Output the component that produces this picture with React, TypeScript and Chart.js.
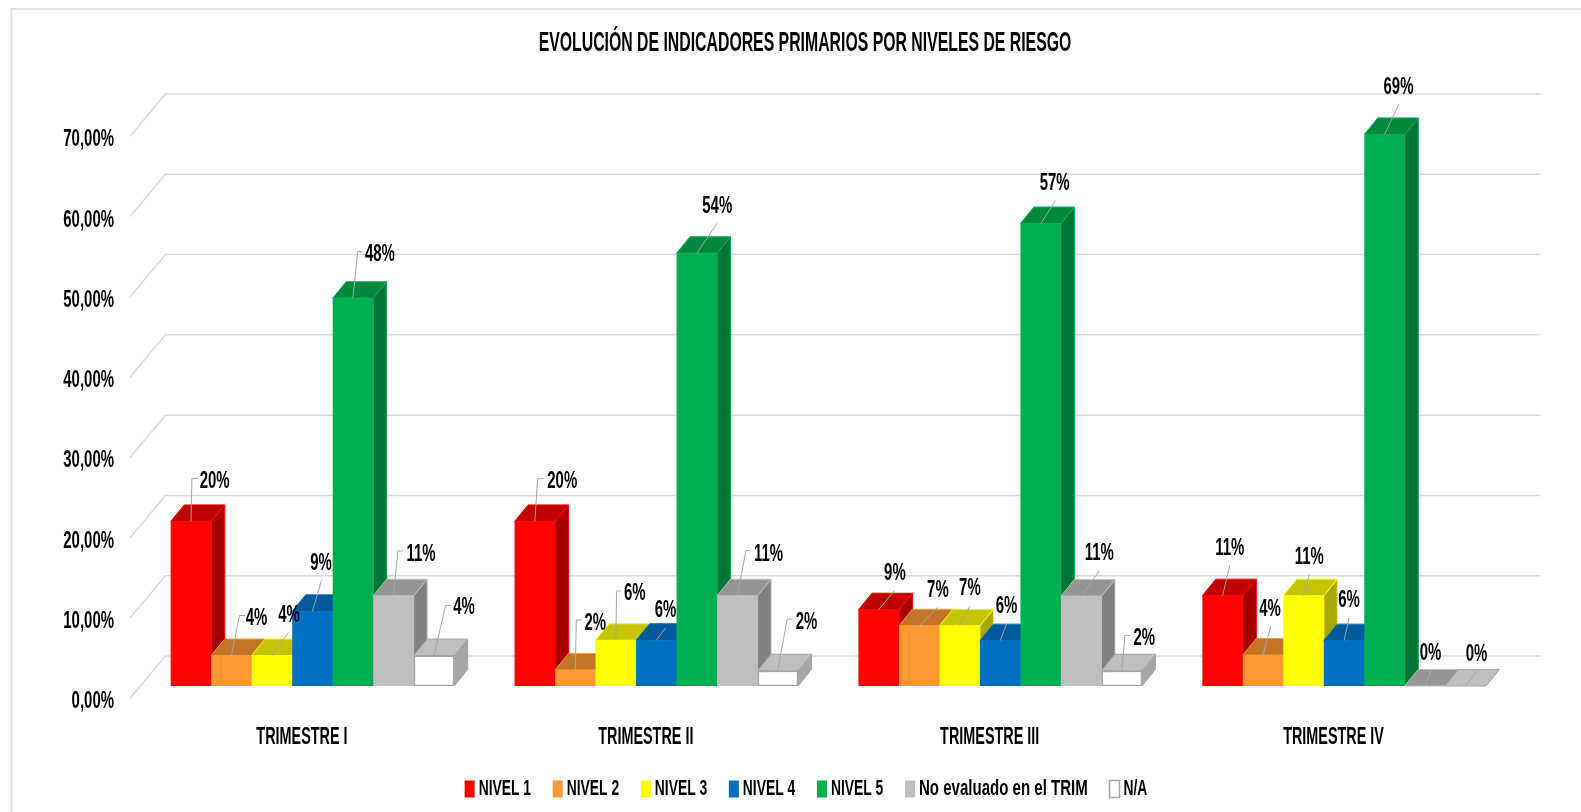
import React, { useEffect, useRef } from "react";
import { Chart, registerables } from "chart.js";

Chart.register(...registerables);

const titleText = "EVOLUCIÓN DE INDICADORES PRIMARIOS POR NIVELES DE RIESGO";
const categories = ["TRIMESTRE I", "TRIMESTRE II", "TRIMESTRE III", "TRIMESTRE IV"];
const seriesNames = ["NIVEL 1", "NIVEL 2", "NIVEL 3", "NIVEL 4", "NIVEL 5", "No evaluado en el TRIM", "N/A"];

const nivel1 = [20.5, 20.5, 9.5, 11.25];
const nivel2 = [3.8, 2.0, 7.5, 3.85];
const nivel3 = [3.8, 5.7, 7.5, 11.25];
const nivel4 = [9.3, 5.7, 5.65, 5.65];
const nivel5 = [48.3, 53.9, 57.6, 68.7];
const noEvaluado = [11.25, 11.25, 11.2, 0];
const noAplica = [3.8, 1.9, 1.9, 0];
const seriesValues = [nivel1, nivel2, nivel3, nivel4, nivel5, noEvaluado, noAplica];

const labelsText = [
  ["20%", "20%", "9%", "11%"],
  ["4%", "2%", "7%", "4%"],
  ["4%", "6%", "7%", "11%"],
  ["9%", "6%", "6%", "6%"],
  ["48%", "54%", "57%", "69%"],
  ["11%", "11%", "11%", "0%"],
  ["4%", "2%", "2%", "0%"],
];

const frontColors = ["#FF0000", "#FF9933", "#FFFF00", "#0070C0", "#00B050", "#BFBFBF", "#FFFFFF"];
const topColors = ["#C00000", "#C27427", "#C4C400", "#00599A", "#00893D", "#959595", "#BFBFBF"];
const sideColors = ["#A60000", "#A86420", "#A8A800", "#004C85", "#00753A", "#808080", "#A6A6A6"];
const edgeColors = ["#FF0000", "#FF9933", "#FFFF00", "#0070C0", "#00B050", "#BFBFBF", "#A6A6A6"];

// Label placement relative to the top-centre of each bar: [labelDx, labelDy, leader points...]
const labelPlacement: number[][][] = [
  [[23.7, -41, 1, -43, 7, -43], [27.4, -41, 2.8, -42.7, 9, -42.7], [16.2, -37.7, 15.6, -19], [7.3, -49, 7.3, -30.7]],
  [[25, -38.5, 8, -40, 14, -40], [20, -48, 1, -50, 6, -50], [18.7, -36.4, 18.4, -18.4], [6.9, -46.7, 7.5, -28.3]],
  [[17, -41, 16.5, -23], [19, -48.3, 0.8, -49.3, 5.1, -49.3], [10.2, -38.4, 10.2, -19.7], [5.7, -40, 5.7, -21.4]],
  [[8.5, -49, 9, -31], [9.3, -30.7, 9.3, -12.3], [6.4, -35, 6.4, -16.7], [4.9, -41.7, 5.2, -23.4]],
  [[27, -45, 4.7, -46.6, 9.3, -46.6], [20.4, -48.3, 20.4, -30], [14, -41, 14.8, -22.6], [13.9, -48.6, 14.3, -30]],
  [[27.5, -43, 4.5, -44.7, 9.5, -44.7], [31.3, -43, 8.6, -45, 12.6, -45], [18, -43.7, 18, -25], [5.5, -34.3, 5.9, -16]],
  [[30, -49, 11.7, -50, 17, -50], [28.8, -49.3, 9.4, -51.7, 14.4, -51.7], [22.5, -33.7, 3.3, -35.3, 9, -35.3], [11, -32.7, 11, -14.3]],
];

const FONT = '"Liberation Sans", sans-serif';
const TITLE_SIZE = 28;
const CATEGORY_SIZE = 24;
const VALUE_SIZE = 23;
const LEGEND_SIZE = 22;
const condense: Record<number, number> = { 28: 0.565, 24: 0.6, 23: 0.65, 22: 0.63 };
const LEGEND_TEXT_SHIFT = 7;
const LEGEND_NUDGE = 4.5;
const LEGEND_BOTTOM = 2;
const BAR_DX = 13.5;
const BAR_DY = 16.5;

function fontSizeOf(ctx: CanvasRenderingContext2D) {
  const m = /(\d+(?:\.\d+)?)px/.exec(ctx.font);
  return m ? Number(m[1]) : 0;
}

function narrowFactor(ctx: CanvasRenderingContext2D, text: string) {
  const size = fontSizeOf(ctx);
  const sx = condense[size] || 1;
  return size === LEGEND_SIZE && /[a-z]/.test(text) ? sx * 1.085 : sx;
}

// The reference uses a condensed face: none is installed, so real text is narrowed at draw time.
function condenseText(ctx: any) {
  const fill = ctx.fillText.bind(ctx);
  const measure = ctx.measureText.bind(ctx);
  ctx.fillText = (text: string, x: number, y: number) => {
    const size = fontSizeOf(ctx);
    const shift = size === LEGEND_SIZE && ctx.textAlign === "left" ? LEGEND_TEXT_SHIFT : 0;
    const sx = narrowFactor(ctx, text);
    ctx.save();
    ctx.translate(x - shift, y);
    ctx.scale(sx, 1);
    fill(text, 0, 0);
    ctx.restore();
  };
  ctx.measureText = (text: string) => {
    const m = measure(text);
    return {
      width: m.width * narrowFactor(ctx, text),
      actualBoundingBoxAscent: m.actualBoundingBoxAscent,
      actualBoundingBoxDescent: m.actualBoundingBoxDescent,
    };
  };
}

let releaseDraw = false;

const bars3d = {
  id: "bars3d",
  afterLayout(chart: any) {
    chart.legend.left += LEGEND_NUDGE;
    chart.legend.right += LEGEND_NUDGE;
  },
  beforeDatasetsDraw(chart: any) {
    const { ctx, chartArea, scales } = chart;
    const y = scales.y;
    ctx.save();
    ctx.strokeStyle = "#D9D9D9";
    ctx.lineWidth = 1.5;
    y.ticks.forEach((t: any) => {
      const py = y.getPixelForValue(t.value);
      ctx.beginPath();
      ctx.moveTo(chartArea.left - 10.5, py + 12.3);
      ctx.lineTo(chartArea.left + 25, py - 30);
      ctx.lineTo(chartArea.right + 24.5, py - 30);
      ctx.stroke();
    });
    ctx.restore();
  },
  beforeDatasetDraw() {
    return releaseDraw;
  },
  afterDatasetsDraw(chart: any) {
    const { ctx } = chart;
    chart.data.datasets.forEach((_: any, i: number) => {
      const meta = chart.getDatasetMeta(i);
      meta.data.forEach((bar: any) => {
        const p = bar.getProps(["x", "y", "base", "width"], true);
        const l = p.x - p.width / 2;
        const r = p.x + p.width / 2;
        ctx.save();
        ctx.lineWidth = 1;
        ctx.strokeStyle = edgeColors[i];
        ctx.fillStyle = sideColors[i];
        ctx.beginPath();
        ctx.moveTo(r, p.y);
        ctx.lineTo(r + BAR_DX, p.y - BAR_DY);
        ctx.lineTo(r + BAR_DX, p.base - BAR_DY);
        ctx.lineTo(r, p.base);
        ctx.closePath();
        ctx.fill();
        ctx.stroke();
        ctx.fillStyle = topColors[i];
        ctx.beginPath();
        ctx.moveTo(l, p.y);
        ctx.lineTo(l + BAR_DX, p.y - BAR_DY);
        ctx.lineTo(r + BAR_DX, p.y - BAR_DY);
        ctx.lineTo(r, p.y);
        ctx.closePath();
        ctx.fill();
        ctx.stroke();
        ctx.restore();
      });
      releaseDraw = true;
      meta.controller.draw();
      releaseDraw = false;
    });
    ctx.save();
    chart.data.datasets.forEach((_: any, i: number) => {
      chart.getDatasetMeta(i).data.forEach((bar: any, j: number) => {
        const p = bar.getProps(["x", "y"], true);
        const place = labelPlacement[i][j];
        ctx.strokeStyle = "#A6A6A6";
        ctx.lineWidth = 1;
        ctx.beginPath();
        ctx.moveTo(p.x, p.y);
        for (let k = 2; k < place.length; k += 2) ctx.lineTo(p.x + place[k], p.y + place[k + 1]);
        ctx.stroke();
        ctx.font = `bold ${VALUE_SIZE}px ${FONT}`;
        ctx.fillStyle = "#000000";
        ctx.textAlign = "center";
        ctx.textBaseline = "middle";
        ctx.fillText(labelsText[i][j], p.x + place[0], p.y + place[1] + 1.5);
      });
    });
    ctx.restore();
  },
  afterDraw(chart: any) {
    const { ctx } = chart;
    ctx.save();
    ctx.strokeStyle = "#D9D9D9";
    ctx.lineWidth = 1.5;
    ctx.beginPath();
    ctx.moveTo(11.5, 812);
    ctx.lineTo(11.5, 9);
    ctx.lineTo(1581, 9);
    ctx.stroke();
    ctx.restore();
  },
};

export default function App() {
  const ref = useRef<HTMLCanvasElement>(null);
  useEffect(() => {
    document.body.style.margin = "0";
    const canvas = ref.current as HTMLCanvasElement;
    condenseText(canvas.getContext("2d"));
    const chart = new Chart(canvas, {
      type: "bar",
      data: {
        labels: categories,
        datasets: seriesNames.map((name, i) => ({
          label: name,
          data: seriesValues[i],
          backgroundColor: frontColors[i],
          borderColor: edgeColors[i],
          borderWidth: i === 6 ? 1.5 : 0,
          borderSkipped: false,
          barPercentage: 1,
          categoryPercentage: 0.8244,
        })),
      },
      options: {
        responsive: false,
        animation: false,
        layout: { padding: { left: 50, right: 21, top: 0, bottom: LEGEND_BOTTOM } },
        plugins: {
          title: {
            display: true,
            text: titleText,
            color: "#000000",
            font: { family: FONT, size: TITLE_SIZE, weight: "bold" },
            padding: { top: 26.5, bottom: 63.9 },
          },
          legend: {
            position: "bottom",
            labels: {
              color: "#000000",
              font: { family: FONT, size: LEGEND_SIZE, weight: "bold" },
              boxWidth: 10,
              boxHeight: 17,
              padding: 14.7,
            },
          },
          tooltip: { enabled: false },
        },
        scales: {
          x: {
            grid: { display: false },
            border: { display: false },
            ticks: {
              color: "#000000",
              font: { family: FONT, size: CATEGORY_SIZE, weight: "bold" },
              padding: 28.6,
              labelOffset: -10.5,
              maxRotation: 0,
            },
            afterFit(s: any) {
              s.height = 812 - 686 - LEGEND_BOTTOM - (s.chart.legend ? s.chart.legend.height : 50);
            },
          },
          y: {
            min: 0,
            max: 70,
            grid: { display: false, drawTicks: false },
            border: { display: false },
            ticks: {
              stepSize: 10,
              color: "#000000",
              font: { family: FONT, size: VALUE_SIZE, weight: "bold" },
              padding: 26.5,
              labelOffset: 16,
              callback: (v: any) => Number(v).toFixed(2).replace(".", ",") + "%",
            },
            afterFit(s: any) {
              s.width = 90.5;
            },
          },
          spacer: {
            type: "linear",
            position: "right",
            min: 0,
            max: 70,
            grid: { display: false, drawTicks: false },
            border: { display: false },
            ticks: { display: false },
            afterFit(s: any) {
              s.width = 44;
            },
          },
        },
      },
      plugins: [bars3d],
    } as any);
    return () => chart.destroy();
  }, []);
  return <canvas ref={ref} width={1581} height={812} style={{ display: "block" }} />;
}
